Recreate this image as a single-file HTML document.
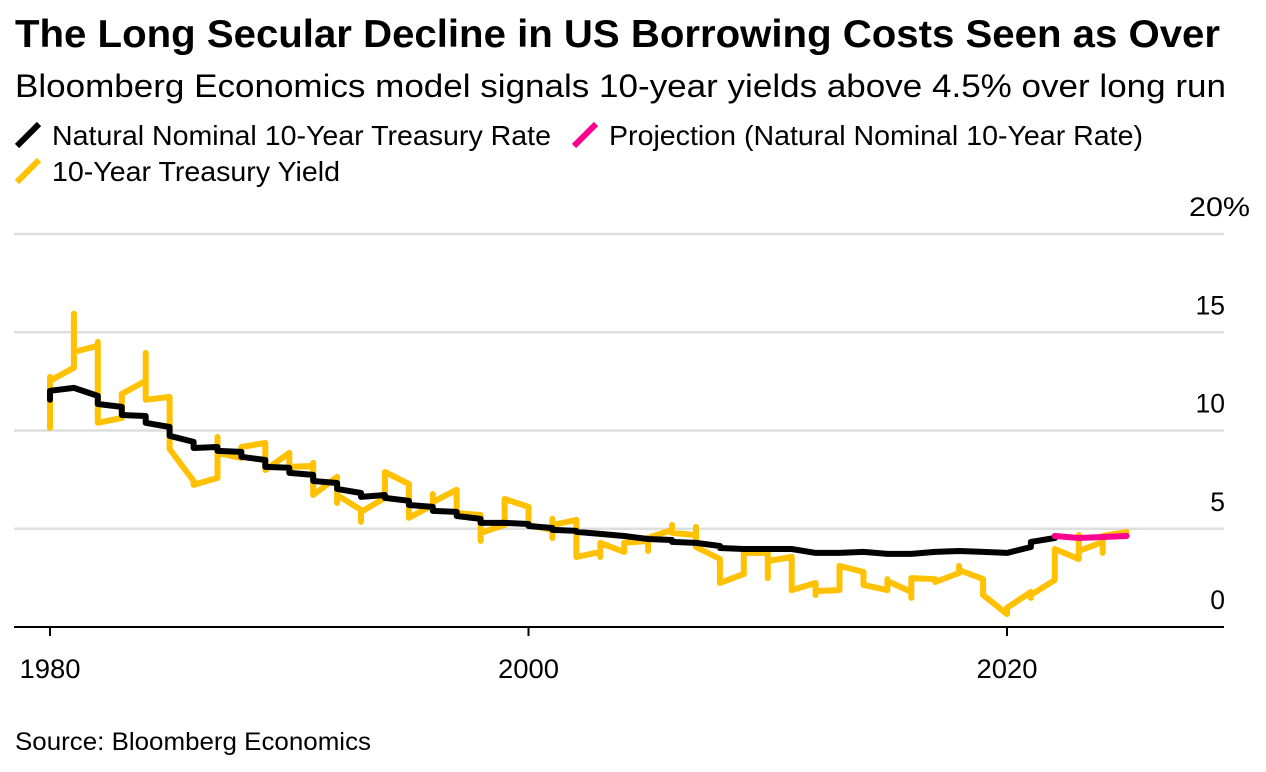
<!DOCTYPE html>
<html lang="en">
<head>
<meta charset="utf-8">
<title>The Long Secular Decline in US Borrowing Costs Seen as Over</title>
<style>
html,body{margin:0;padding:0;background:#fff;width:1266px;height:772px;overflow:hidden}
svg{display:block;font-family:"Liberation Sans",Arial,sans-serif}
text{fill:#000}
</style>
</head>
<body>
<svg id="chart" width="1266" height="772" viewBox="0 0 1266 772" xmlns="http://www.w3.org/2000/svg">
  <rect x="0" y="0" width="1266" height="772" fill="#fff"/>
  <text x="15" y="47" font-size="39" font-weight="700" textLength="1205" lengthAdjust="spacingAndGlyphs">The Long Secular Decline in US Borrowing Costs Seen as Over</text>
  <text x="15" y="97" font-size="32" textLength="1211" lengthAdjust="spacingAndGlyphs">Bloomberg Economics model signals 10-year yields above 4.5% over long run</text>

  <line x1="17" y1="146" x2="39" y2="124" stroke="#000" stroke-width="6"/>
  <text x="52" y="145" font-size="27.5" textLength="499" lengthAdjust="spacingAndGlyphs">Natural Nominal 10-Year Treasury Rate</text>
  <line x1="574" y1="146" x2="596" y2="124" stroke="#ff0090" stroke-width="6"/>
  <text x="609" y="145" font-size="27.5" textLength="534" lengthAdjust="spacingAndGlyphs">Projection (Natural Nominal 10-Year Rate)</text>
  <line x1="17" y1="182" x2="39" y2="160" stroke="#ffc100" stroke-width="6"/>
  <text x="52" y="181" font-size="27.5" textLength="288" lengthAdjust="spacingAndGlyphs">10-Year Treasury Yield</text>

  <g id="grid"></g>
  <g id="series"></g>
  <g id="axes"></g>

  <text x="15" y="750" font-size="25" textLength="356" lengthAdjust="spacingAndGlyphs">Source: Bloomberg Economics</text>
</svg>
<script>
// Chart data
var yTicks = [0, 5, 10, 15, 20];
var xTicks = [1980, 2000, 2020];

var yieldYears = [
  1980,1980,1980, 1981,1981,1981, 1982,1982,1982, 1983,1983, 1984,1984,1984, 1985,1985,
  1986,1986, 1987,1987,1987, 1988,1988, 1989,1989, 1990,1990, 1991,1991,1991,
  1992,1992,1992, 1993,1993,1993, 1994,1994, 1995,1995, 1996,1996,1996, 1997,1997,
  1998,1998,1998, 1999,1999, 2000,2000, 2001,2001,2001,2001, 2002,2002, 2003,2003,2003,
  2004,2004, 2005,2005,2005, 2006,2006,2006, 2007,2007,2007, 2008,2008, 2009,2009, 2010,2010,2010,
  2011,2011, 2012,2012,2012, 2013,2013, 2014,2014, 2015,2015,2015, 2016,2016,2016, 2017,2017,
  2018,2018,2018, 2019,2019, 2020,2020, 2021,2021,2021, 2022,2022, 2023,2023,2023, 2024,2024,2024, 2025
];
var yieldValues = [
  10.13,12.73,12.53, 13.19,15.94,14.0, 14.31,14.51,10.39, 10.64,11.86, 12.53,13.95,11.56, 11.71,9.06,
  7.43,7.23, 7.59,9.67,8.86, 8.6,9.16, 9.37,7.99, 8.86,8.15, 8.2,8.35,6.72,
  7.64,6.31,6.72, 5.96,5.35,5.86, 6.57,7.89, 7.28,5.55, 6.21,6.77,6.36, 6.98,5.8,
  5.7,4.38,4.79, 5.19,6.52, 6.11,5.19, 4.94,5.5,4.53,5.19, 5.45,3.56, 3.82,3.56,4.28,
  3.82,4.28, 4.38,3.87,4.53, 4.94,5.19,4.79, 4.68,5.09,4.07, 3.46,2.24, 2.7,3.77, 3.77,2.49,3.36,
  3.56,1.88, 2.24,1.63,1.83, 1.88,3.11, 2.8,2.14, 1.88,2.44,2.34, 1.78,1.48,2.49, 2.44,2.29,
  2.75,3.11,2.9, 2.44,1.63, 0.66,0.97, 1.78,1.48,1.63, 2.39,3.97, 3.46,4.68,3.87, 4.33,3.77,4.63, 4.84
];

var rateYears = [
  1980,1980, 1981, 1982,1982, 1983,1983, 1984,1984, 1985,1985, 1986,1986, 1987,1987, 1988,1988,
  1989,1989, 1990,1990, 1991,1991, 1992,1992, 1993,1993, 1994,1994, 1995,1995, 1996,1996,
  1997,1997, 1998,1998, 1999, 2000,2000, 2001,2001, 2002,2002, 2003, 2004, 2005, 2006,2006, 2007,
  2008,2008, 2009, 2010, 2011, 2012, 2013, 2014, 2015, 2016, 2017, 2018, 2019, 2020, 2021,2021, 2022,2022
];
var rateValues = [
  11.56,12.02, 12.17, 11.76,11.35, 11.2,10.79, 10.74,10.39, 10.18,9.73, 9.42,9.11, 9.16,8.96, 8.91,8.66,
  8.5,8.15, 8.1,7.84, 7.74,7.43, 7.33,7.03, 6.82,6.62, 6.72,6.57, 6.42,6.21, 6.11,5.91,
  5.86,5.65, 5.5,5.3, 5.3, 5.24,5.14, 5.04,4.94, 4.89,4.84, 4.74, 4.63, 4.48, 4.43,4.33, 4.28,
  4.12,4.02, 3.97, 3.97, 3.97, 3.77, 3.77, 3.82, 3.72, 3.72, 3.82, 3.87, 3.82, 3.77, 4.07,4.33, 4.53,4.63
];

var projectionYears = [2022, 2023, 2024, 2025];
var projectionValues = [4.63, 4.53, 4.58, 4.63];

// Axis functions
function xScale(year) { return 50 + (year - 1980) * (1007 - 50) / 40; }
function yScale(value) { return 627 - value * (627 - 234) / 20; }

var NS = 'http://www.w3.org/2000/svg';
var gridGroup = document.getElementById('grid');
var seriesGroup = document.getElementById('series');
var axesGroup = document.getElementById('axes');

yTicks.forEach(function (t) {
  var label = document.createElementNS(NS, 'text');
  
  
  label.setAttribute('x', t === 20 ? 1189 : 1225);
  label.setAttribute('y', yScale(t) - 18);
  label.setAttribute('font-size', '26.5');
  label.setAttribute('text-anchor', t === 20 ? 'start' : 'end');
  if (t === 20) {
    label.setAttribute('textLength', '61');
    label.setAttribute('lengthAdjust', 'spacingAndGlyphs');
  }
  label.textContent = t === 20 ? '20%' : String(t);
  axesGroup.appendChild(label);
  if (t === 0) return;
  var line = document.createElementNS(NS, 'line');
  
  
  line.setAttribute('x1', 14);
  line.setAttribute('x2', 1224);
  line.setAttribute('y1', yScale(t));
  line.setAttribute('y2', yScale(t));
  line.setAttribute('stroke', '#dedede');
  line.setAttribute('stroke-width', '2.5');
  gridGroup.appendChild(line);
});

function makePath(xs, ys, color, name) {
  var d = '';
  for (var i = 0; i < xs.length; i++) {
    d += (i ? 'L' : 'M') + xScale(xs[i]).toFixed(1) + ' ' + yScale(ys[i]).toFixed(1);
  }
  var p = document.createElementNS(NS, 'path');
  
  
  p.setAttribute('d', d);
  p.setAttribute('fill', 'none');
  p.setAttribute('stroke', color);
  p.setAttribute('stroke-width', '6');
  p.setAttribute('stroke-linejoin', 'round');
  p.setAttribute('stroke-linecap', 'round');
  seriesGroup.appendChild(p);
}
makePath(yieldYears, yieldValues, '#ffc100', 'treasury-yield-line');
makePath(rateYears, rateValues, '#000000', 'natural-rate-line');
makePath(projectionYears, projectionValues, '#ff0090', 'projection-line');

var axisLine = document.createElementNS(NS, 'line');


axisLine.setAttribute('x1', 14);
axisLine.setAttribute('x2', 1224);
axisLine.setAttribute('y1', 627);
axisLine.setAttribute('y2', 627);
axisLine.setAttribute('stroke', '#000');
axisLine.setAttribute('stroke-width', '2');
axesGroup.appendChild(axisLine);

xTicks.forEach(function (t) {
  var tick = document.createElementNS(NS, 'line');
  
  
  tick.setAttribute('x1', xScale(t));
  tick.setAttribute('x2', xScale(t));
  tick.setAttribute('y1', 627);
  tick.setAttribute('y2', 636);
  tick.setAttribute('stroke', '#000');
  tick.setAttribute('stroke-width', '2');
  axesGroup.appendChild(tick);
  var label = document.createElementNS(NS, 'text');
  
  
  label.setAttribute('x', xScale(t));
  label.setAttribute('y', 678);
  label.setAttribute('font-size', '26.5');
  label.setAttribute('text-anchor', 'middle');
  label.setAttribute('textLength', '61');
  label.setAttribute('lengthAdjust', 'spacingAndGlyphs');
  label.textContent = String(t);
  axesGroup.appendChild(label);
});
</script>
</body>
</html>
